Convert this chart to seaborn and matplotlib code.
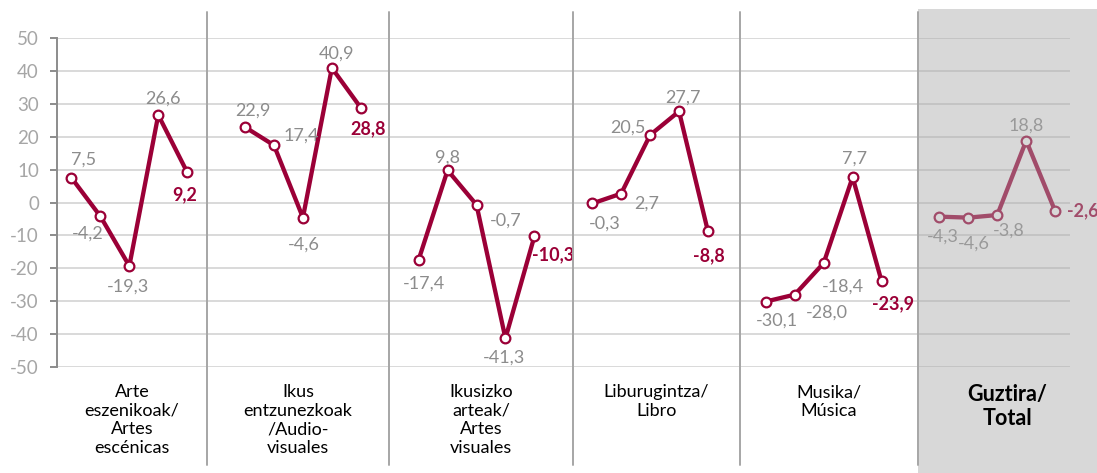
import pandas as pd
import matplotlib.pyplot as plt
import seaborn as sns
from matplotlib.patches import Rectangle
from matplotlib.lines import Line2D

# category labels (one per panel)
groups = [
    "Arte\neszenikoak/\nArtes\nescénicas",
    "Ikus\nentzunezkoak\n/Audio-\nvisuales",
    "Ikusizko\narteak/\nArtes\nvisuales",
    "Liburugintza/\nLibro",
    "Musika/\nMúsica",
    "Guztira/\nTotal",
]

# five values per panel
arte = [7.5, -4.2, -19.3, 26.6, 9.2]
ikus_entzunezkoak = [22.9, 17.4, -4.6, 40.9, 28.8]
ikusizko = [-17.4, 9.8, -0.7, -41.3, -10.3]
liburugintza = [-0.3, 2.7, 20.5, 27.7, -8.8]
musika = [-30.1, -28.0, -18.4, 7.7, -23.9]
guztira = [-4.3, -4.6, -3.8, 18.8, -2.6]
series = [arte, ikus_entzunezkoak, ikusizko, liburugintza, musika, guztira]

y_ticks = list(range(-50, 51, 10))

# label placement (pixel offsets from point to label centre)
label_offsets = [
    [(12, -18), (-13, 17), (-1, 21), (5, -16), (-3, 23)],
    [(8, -17), (27, -10), (1, 27), (5, -14), (7, 21)],
    [(5, 24), (0, -13), (29, 16), (-1, 19), (19, 18)],
    [(13, 20), (26, 10), (-22, -7), (4, -14), (1, 24)],
    [(11, 19), (32, 18), (19, 24), (2, -19), (11, 23)],
    [(3, 20), (5, 26), (11, 16), (0, -15), (28, 0)],
]

RED = "#9B0037"
W, H = 1097, 473

rows = []
for g, vals in enumerate(series):
    for i, v in enumerate(vals):
        rows.append({"pos": 6 * g + i, "value": v, "group": g})
df = pd.DataFrame(rows)

sns.set_style("white")
plt.rcParams["font.family"] = ["Lato", "DejaVu Sans"]
plt.rcParams["axes.unicode_minus"] = False

fig = plt.figure(figsize=(W / 100, H / 100), dpi=100)
ax = fig.add_axes([57 / W, 1 - 367 / H, (1069.6 - 57) / W, (367 - 38) / H])

sns.lineplot(
    data=df, x="pos", y="value", units="group", estimator=None, sort=False,
    color=RED, lw=3.1, marker="o", markersize=7, markerfacecolor="white",
    markeredgecolor=RED, markeredgewidth=1.6, ax=ax, legend=False, zorder=3,
)

for g, vals in enumerate(series):
    for i, v in enumerate(vals):
        dx, dy = label_offsets[g][i]
        last = i == len(vals) - 1
        ax.annotate(
            f"{v:.1f}".replace(".", ","), (6 * g + i, v),
            xytext=(dx * 0.72, -dy * 0.72), textcoords="offset points",
            ha="center", va="center", fontsize=13,
            color=RED if last else "#8C8C8C",
            fontweight="bold" if last else "normal", zorder=4,
        )

ax.set_xlim(-0.5, 34.5)
ax.set_ylim(-50, 50)
ax.set_yticks(y_ticks)
ax.set_xticks([])
ax.set_xlabel("")
ax.set_ylabel("")
ax.yaxis.grid(True, color="#D9D9D9", lw=1.4)
ax.set_axisbelow(True)
for s in ["top", "right", "bottom"]:
    ax.spines[s].set_visible(False)
ax.spines["left"].set_color("#8C8C8C")
ax.spines["left"].set_linewidth(1.4)
ax.tick_params(axis="y", left=True, length=5, width=1.4, color="#8C8C8C",
               labelsize=13.5, labelcolor="#A6A6A6", pad=8)

# panel separators
sep_px = [207, 389, 573, 740, 918]
for x in sep_px:
    fig.add_artist(Line2D([x / W, x / W], [1 - 12 / H, 1 - 465 / H],
                          color="#A6A6A6", lw=1.4, zorder=5))

# grey overlay on the total panel
fig.add_artist(Rectangle((918 / W, 0), 1 - 918 / W, 1 - 9 / H,
                         transform=fig.transFigure, color="#AAAAAA",
                         alpha=0.45, lw=0, zorder=6))

edges = [57] + sep_px + [W]
for g, name in enumerate(groups):
    cx = (edges[g] + edges[g + 1]) / 2
    last = g == len(groups) - 1
    fig.text(cx / W, 1 - 384 / H, name, ha="center", va="top",
             fontsize=15.5 if last else 13, linespacing=1.2,
             fontweight="bold" if last else "normal", color="black", zorder=7)

fig.savefig("out.png", dpi=100)
